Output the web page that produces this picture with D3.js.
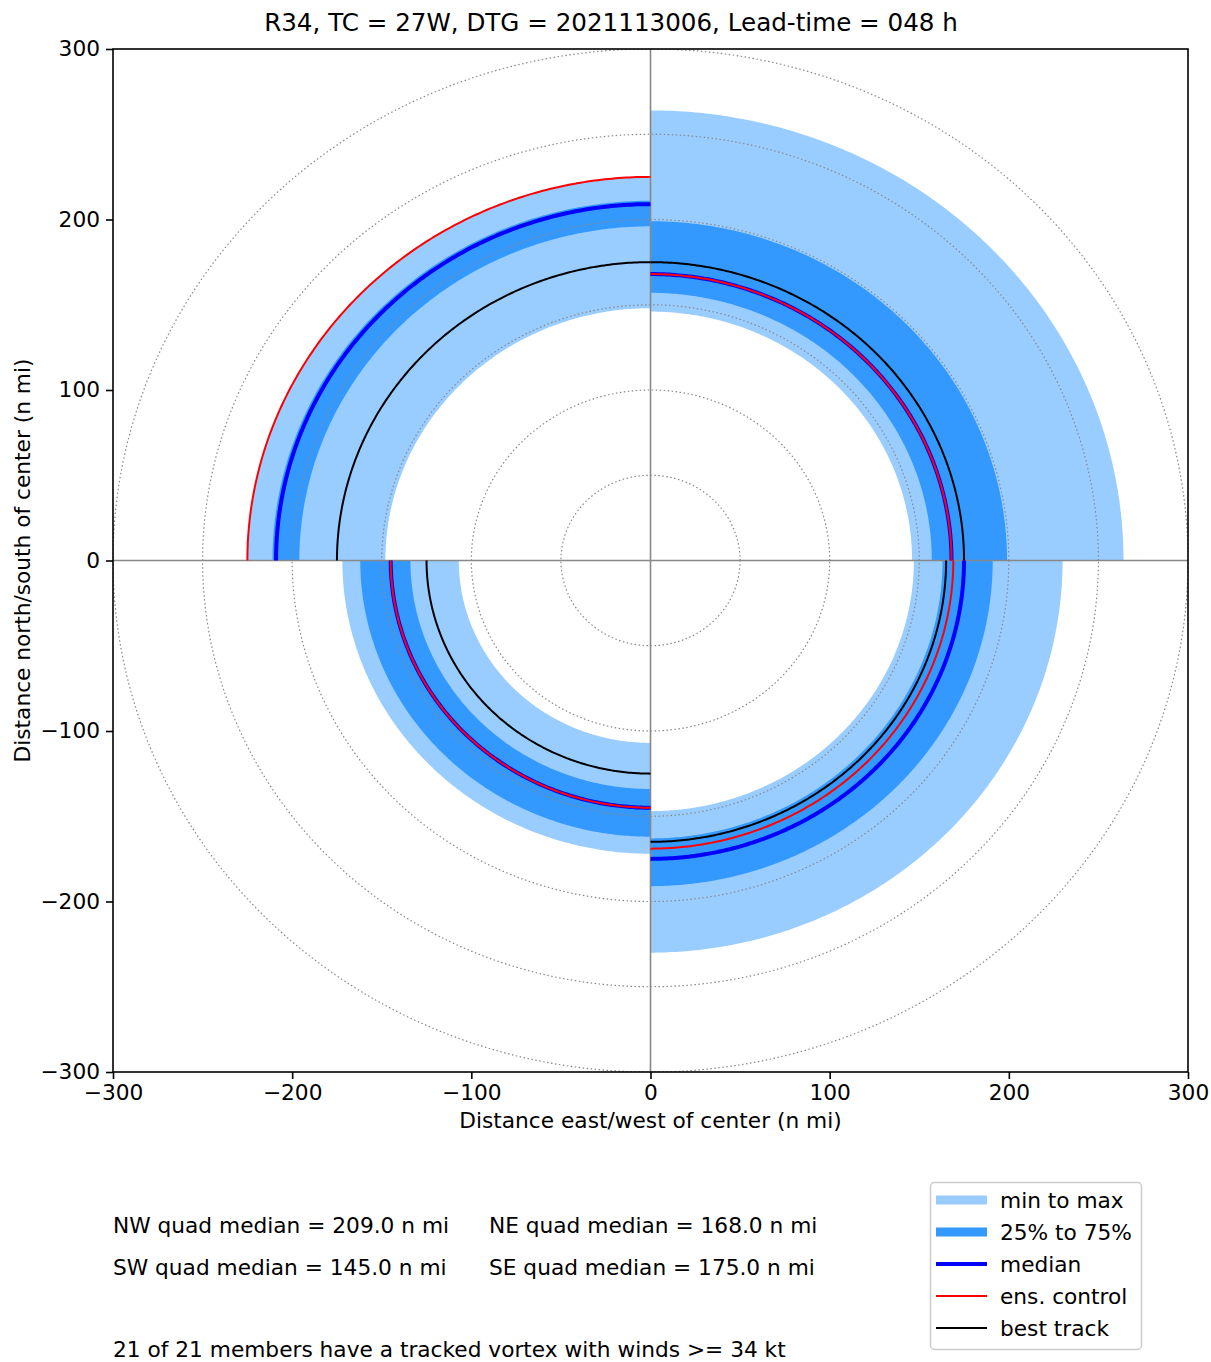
<!DOCTYPE html>
<html>
<head>
<meta charset="utf-8">
<script src="https://cdn.jsdelivr.net/npm/d3@7"></script>
<style>
  body { margin: 0; background: #fff; }
  text { font-family: "DejaVu Sans", sans-serif; fill: #000; }
</style>
</head>
<body>
<script>
    // Quadrants: start / end angle in degrees (counter-clockwise from east)
    var quads = ["NE", "NW", "SW", "SE"];
    var angles = [[0, 90], [90, 180], [180, 270], [270, 360]];

    // Radii (n mi), per quadrant in the order above
    var minR = [146, 148, 107, 147];
    var q25R = [157, 196, 134, 163];
    var medR = [168, 209, 145, 175];
    var q75R = [199, 211, 162, 191];
    var maxR = [264, 225, 172, 230];
    var ctlR = [168, 225, 145, 169];
    var bestR = [175, 175, 125, 165];

    var ticks = [-300, -200, -100, 0, 100, 200, 300];
    var rings = [50, 100, 150, 200, 250, 300];

    function init() {
        var W = 1211, H = 1362;
        var left = 113, right = 1188, top = 49, bottom = 1072;
        var fs = "21.7px";

        var svg = d3.select("body").append("svg")
            .attr("width", W)
            .attr("height", H);

        var x = d3.scaleLinear().domain([-300, 300]).range([left, right]);
        var y = d3.scaleLinear().domain([-300, 300]).range([bottom, top]);

        svg.append("clipPath").attr("id", "clip")
            .append("rect")
            .attr("x", left).attr("y", top)
            .attr("width", right - left).attr("height", bottom - top);

        var plot = svg.append("g").attr("clip-path", "url(#clip)");

        // points along an arc of radius r between angles a0..a1 (degrees)
        function arcPts(r, a0, a1) {
            var pts = [];
            for (var a = a0; a <= a1 + 1e-9; a += 0.5) {
                var t = a * Math.PI / 180;
                pts.push([r * Math.cos(t), r * Math.sin(t)]);
            }
            return pts;
        }

        var line = d3.line()
            .x(function(d) { return x(d[0]); })
            .y(function(d) { return y(d[1]); });

        function band(r0, r1, a) {
            var outer = arcPts(r1, a[0], a[1]);
            var inner = arcPts(r0, a[0], a[1]).reverse();
            return line(outer.concat(inner)) + "Z";
        }

        // min to max
        plot.selectAll(".mm")
            .data(quads)
            .enter()
            .append("path")
            .attr("d", function(d, i) { return band(minR[i], maxR[i], angles[i]); })
            .style("fill", "#99ccff");

        // 25% to 75%
        plot.selectAll(".iq")
            .data(quads)
            .enter()
            .append("path")
            .attr("d", function(d, i) { return band(q25R[i], q75R[i], angles[i]); })
            .style("fill", "#3399ff");

        // range rings
        plot.selectAll(".ring")
            .data(rings)
            .enter()
            .append("path")
            .attr("d", function(r) { return line(arcPts(r, 0, 360)); })
            .style("fill", "none")
            .style("stroke", "#888")
            .style("stroke-width", 1.2)
            .style("stroke-dasharray", "1.5,2.5");

        // axes through center
        plot.append("line")
            .attr("x1", x(0)).attr("x2", x(0)).attr("y1", top).attr("y2", bottom)
            .style("stroke", "#888").style("stroke-width", 1.6);
        plot.append("line")
            .attr("x1", left).attr("x2", right).attr("y1", y(0)).attr("y2", y(0))
            .style("stroke", "#888").style("stroke-width", 1.6);

        function arcLines(vals, color, width) {
            plot.append("g").selectAll("path")
                .data(quads)
                .enter()
                .append("path")
                .attr("d", function(d, i) { return line(arcPts(vals[i], angles[i][0], angles[i][1])); })
                .style("fill", "none")
                .style("stroke", color)
                .style("stroke-width", width);
        }

        arcLines(medR, "#0000ff", 4);
        arcLines(ctlR, "#ff0000", 2);
        arcLines(bestR, "#000000", 2);

        // axes
        var fmt = function(d) { return d < 0 ? "\u2212" + Math.abs(d) : d; };
        var xAxis = d3.axisBottom(x).tickValues(ticks).tickSize(7).tickPadding(6).tickFormat(fmt);
        var yAxis = d3.axisLeft(y).tickValues(ticks).tickSize(7).tickPadding(6).tickFormat(fmt);

        var gx = svg.append("g").attr("transform", "translate(0," + bottom + ")").call(xAxis);
        var gy = svg.append("g").attr("transform", "translate(" + left + ",0)").call(yAxis);
        [gx, gy].forEach(function(g) {
            g.select(".domain").remove();
            g.selectAll("line").style("stroke", "#000").style("stroke-width", 1.6);
            g.selectAll("text").style("font-size", fs).style("font-family", "DejaVu Sans");
        });

        svg.append("rect")
            .attr("x", left).attr("y", top)
            .attr("width", right - left).attr("height", bottom - top)
            .style("fill", "none").style("stroke", "#000").style("stroke-width", 1.6);

        // titles
        svg.append("text")
            .attr("x", 611).attr("y", 31)
            .attr("text-anchor", "middle")
            .style("font-size", "24.6px")
            .text("R34, TC = 27W, DTG = 2021113006, Lead-time = 048 h");

        svg.append("text")
            .attr("x", (left + right) / 2).attr("y", 1128)
            .attr("text-anchor", "middle")
            .style("font-size", fs)
            .text("Distance east/west of center (n mi)");

        svg.append("text")
            .attr("transform", "translate(30," + (top + bottom) / 2 + ") rotate(-90)")
            .attr("text-anchor", "middle")
            .style("font-size", fs)
            .text("Distance north/south of center (n mi)");

        // quadrant median text
        var notes = [
            {q: "NW", x: 113, y: 1233}, {q: "NE", x: 489, y: 1233},
            {q: "SW", x: 113, y: 1275}, {q: "SE", x: 489, y: 1275}
        ];
        svg.selectAll(".note")
            .data(notes)
            .enter()
            .append("text")
            .attr("x", function(d) { return d.x; })
            .attr("y", function(d) { return d.y; })
            .style("font-size", fs)
            .text(function(d) {
                return d.q + " quad median = " + medR[quads.indexOf(d.q)].toFixed(1) + " n mi";
            });

        svg.append("text")
            .attr("x", 113).attr("y", 1357)
            .style("font-size", fs)
            .text("21 of 21 members have a tracked vortex with winds >= 34 kt");

        // legend
        var legend = [
            {label: "min to max", color: "#99ccff", w: 9},
            {label: "25% to 75%", color: "#3399ff", w: 9},
            {label: "median", color: "#0000ff", w: 4},
            {label: "ens. control", color: "#ff0000", w: 2},
            {label: "best track", color: "#000000", w: 2}
        ];
        svg.append("rect")
            .attr("x", 930.5).attr("y", 1182.5)
            .attr("width", 211).attr("height", 167)
            .attr("rx", 4)
            .style("fill", "#fff").style("stroke", "#ccc").style("stroke-width", 1.5);

        var lg = svg.selectAll(".lg")
            .data(legend)
            .enter()
            .append("g")
            .attr("transform", function(d, i) { return "translate(0," + (1200 + i * 32) + ")"; });
        lg.append("line")
            .attr("x1", 936).attr("x2", 987)
            .style("stroke", function(d) { return d.color; })
            .style("stroke-width", function(d) { return d.w; });
        lg.append("text")
            .attr("x", 1000).attr("y", 7.5)
            .style("font-size", fs)
            .text(function(d) { return d.label; });
    }

    window.onload = init;
</script>
</body>
</html>
